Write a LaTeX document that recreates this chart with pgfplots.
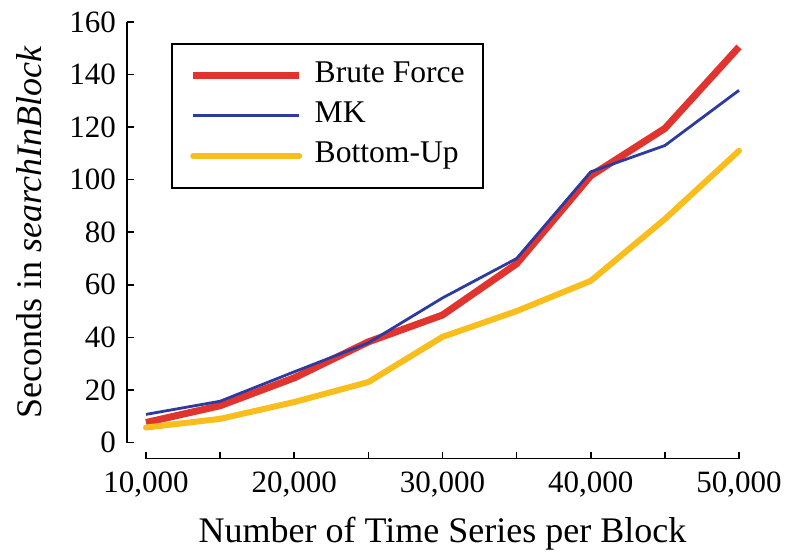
\documentclass[border=0pt]{standalone}
\usepackage{pgfplots}
\pgfplotsset{compat=1.18}
\usepackage{fontspec}
\setmainfont{Liberation Serif}
\definecolor{bfRed}{RGB}{226,52,46}
\definecolor{mkBlue}{RGB}{45,58,160}
\definecolor{buYellow}{RGB}{249,190,28}

\begin{document}
\begin{tikzpicture}
\path (-61.5pt,-47.25pt) rectangle (334pt,231.25pt);
\begin{axis}[
    scale only axis,
    width=312pt, height=224.25pt,
    % limits widened so the detached axis lines lie inside the axis box
    xmin=8448.5, xmax=50539.6, ymin=-7.610, ymax=163.044,
    axis x line*=bottom, axis y line*=left,
    axis line style={draw=none},
    major tick length=0pt, minor tick length=0pt,
    xtick={10000,20000,...,50000},
    ytick={0,20,...,160},
    scaled x ticks=false,
    /pgf/number format/1000 sep={,},
    /pgf/number format/assume math mode=true,
    ticklabel style={font=\fontsize{15.5}{18}\selectfont},
    xticklabel style={yshift=-1pt},
    yticklabel style={xshift=0pt},
    xlabel={Number of Time Series per Block},
    ylabel={Seconds in \textit{searchInBlock}},
    label style={font=\fontsize{18}{21}\selectfont},
    xlabel style={at={(axis description cs:0.5120,-0.17726)}, anchor=base},
    ylabel style={at={(axis description cs:-0.12981,0.51338)}, anchor=base},
    clip=false,
    legend cell align=left,
    legend image code/.code={\draw[#1] (0pt,0pt) -- (53pt,0pt);},
    legend style={at={(axis description cs:0.07677,0.93530)}, anchor=north west,
        draw=black, line width=0.8pt,
        font=\fontsize{15.8}{18}\selectfont,
        nodes={inner sep=0pt, text height=10.5pt, text depth=3.5pt},
        row sep=6pt, inner xsep=9pt, inner ysep=9pt,
        /tikz/column 2/.style={column sep=0pt},
        /tikz/column 1/.style={column sep=6pt}},
]
% detached axis lines with inward ticks
\addplot[black, line width=0.8pt, forget plot] coordinates {(10000,-6.088) (50000,-6.088)};
\addplot[black, line width=0.8pt, forget plot] coordinates {(8718.4,0) (8718.4,160)};
\addplot[black, line width=0.8pt, forget plot, unbounded coords=jump] coordinates {
    (10000,-6.088) (10000,-3.425) (10000,nan)
    (15000,-6.088) (15000,-3.425) (15000,nan)
    (20000,-6.088) (20000,-3.425) (20000,nan)
    (25000,-6.088) (25000,-3.425) (25000,nan)
    (30000,-6.088) (30000,-3.425) (30000,nan)
    (35000,-6.088) (35000,-3.425) (35000,nan)
    (40000,-6.088) (40000,-3.425) (40000,nan)
    (45000,-6.088) (45000,-3.425) (45000,nan)
    (50000,-6.088) (50000,-3.425)
};
\addplot[black, line width=0.8pt, forget plot, unbounded coords=jump] coordinates {
    (8718.4,0) (9190.6,0) (nan,0)
    (8718.4,20) (9190.6,20) (nan,20)
    (8718.4,40) (9190.6,40) (nan,40)
    (8718.4,60) (9190.6,60) (nan,60)
    (8718.4,80) (9190.6,80) (nan,80)
    (8718.4,100) (9190.6,100) (nan,100)
    (8718.4,120) (9190.6,120) (nan,120)
    (8718.4,140) (9190.6,140) (nan,140)
    (8718.4,160) (9190.6,160)
};
\addplot[bfRed, line width=3.5pt, line join=round] coordinates {
    (10000,7.6) (15000,14) (20000,24.6) (25000,38.3) (30000,48.5)
    (35000,68) (40000,101.5) (45000,119.5) (50000,150.5)
};
\addplot[mkBlue, line width=1.4pt, line join=round] coordinates {
    (10000,10.7) (15000,15.7) (20000,26.9) (25000,37.9) (30000,55)
    (35000,70) (40000,103) (45000,113) (50000,134)
};
\addplot[buYellow, line width=3pt, line join=round, line cap=round] coordinates {
    (10000,5.7) (15000,9) (20000,15.4) (25000,23) (30000,40.2)
    (35000,50) (40000,61.5) (45000,85) (50000,111)
};
\legend{Brute Force, MK, Bottom-Up}
\end{axis}
\end{tikzpicture}
\end{document}
